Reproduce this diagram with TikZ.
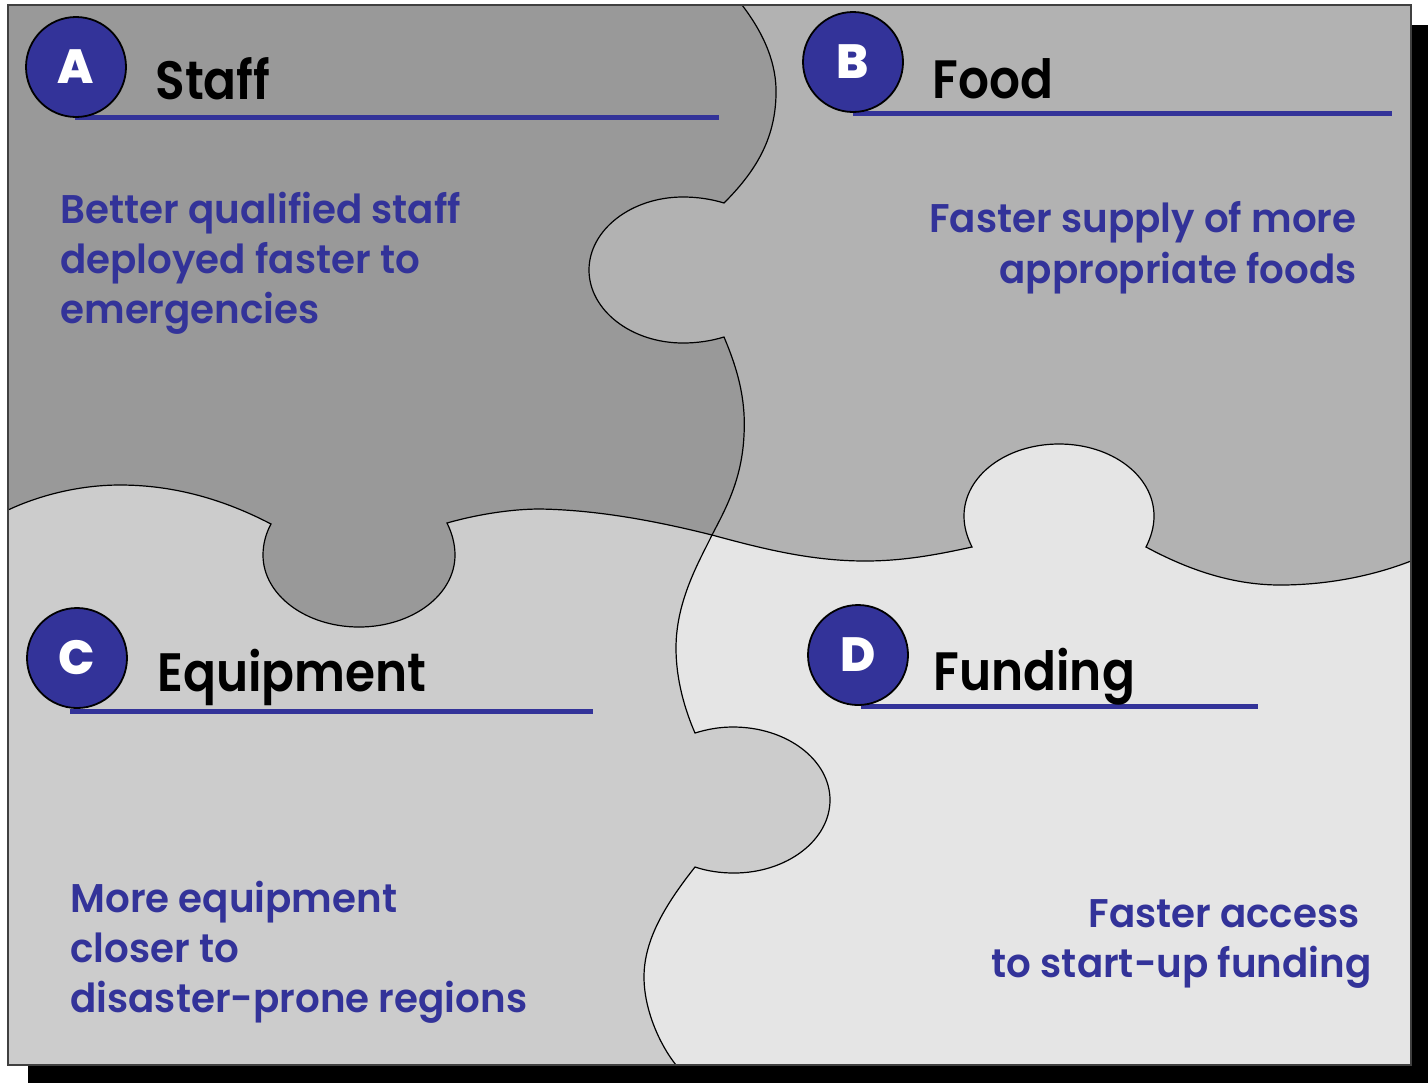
\documentclass[tikz,border=0pt]{standalone}
\usepackage{fontspec}
\setmainfont{Poppins}
\newfontfamily\headfont{Poppins SemiBold}[FakeStretch=0.9]
\newfontfamily\bodyfont{Poppins SemiBold}[FakeStretch=0.97]
\newfontfamily\badgefont{Poppins ExtraBold}
\definecolor{blueC}{HTML}{333399}
\definecolor{fillA}{HTML}{999999}
\definecolor{fillB}{HTML}{B2B2B2}
\definecolor{fillC}{HTML}{CCCCCC}
\definecolor{fillD}{HTML}{E5E5E5}
\tikzset{
  hcurve/.style={insert path={(8,510) .. controls (40,495) and (80,485) .. (120,485) .. controls (175,485) and (225,500) .. (271,524) .. controls (266,533) and (263,544) .. (263,555) .. controls (263,595) and (306,627) .. (359,627) .. controls (412,627) and (455,595) .. (455,555) .. controls (455,544) and (452,533) .. (447,523) .. controls (475,515) and (510,509) .. (540,509) .. controls (600,510) and (660,522) .. (712,535) .. controls (760,548) and (810,561) .. (865,561) .. controls (905,561) and (940,554) .. (972,547) .. controls (967,537) and (964,527) .. (964,516) .. controls (964,476) and (1006,444) .. (1059,444) .. controls (1112,444) and (1154,476) .. (1154,516) .. controls (1154,527) and (1151,537) .. (1146,547) .. controls (1185,568) and (1230,585) .. (1280,585) .. controls (1330,585) and (1375,575) .. (1411,561)}},
  vcurve/.style={insert path={(742,5) .. controls (765,35) and (777,65) .. (776,95) .. controls (775,140) and (755,172) .. (724,203) .. controls (711,199) and (697,197) .. (683,197) .. controls (631,197) and (589,230) .. (589,270) .. controls (589,310) and (631,343) .. (683,343) .. controls (697,343) and (711,341) .. (724,337) .. controls (738,370) and (746,400) .. (744,435) .. controls (742,480) and (725,510) .. (712,535) .. controls (700,560) and (676,600) .. (676,648) .. controls (676,680) and (685,710) .. (695,733) .. controls (708,729) and (720,727) .. (733,727) .. controls (787,727) and (830,760) .. (830,800) .. controls (830,840) and (787,873) .. (734,873) .. controls (720,873) and (707,871) .. (695,867) .. controls (665,905) and (644,940) .. (644,977) .. controls (644,1010) and (660,1045) .. (676,1065)}},
  seam/.style={draw=black, line width=0.6pt},
  border/.style={draw=black!75, line width=0.6pt},
  heading/.style={font=\headfont\fontsize{27}{32}\selectfont, text=black, anchor=base west, inner sep=0pt},
  body/.style={font=\bodyfont\fontsize{20}{25}\selectfont, text=blueC, inner sep=0pt},
  badge/.style={circle, draw=black, line width=0.9pt, fill=blueC, minimum size=50pt, inner sep=0pt,
                font=\badgefont\fontsize{24}{28}\selectfont, text=white},
  ruleline/.style={draw=blueC, line width=2.5pt},
}
\begin{document}
\begin{tikzpicture}[x=0.5pt,y=-0.5pt]
\useasboundingbox (0,0) rectangle (1428,1083);
\fill[white] (0,0) rectangle (1428,1083);
% shadow
\fill[black] (28,25) rectangle (1428,1083);
% puzzle pieces
\fill[fillC] (8,5) rectangle (1411,1065);
\begin{scope}
  \clip[hcurve] -- (1411,5) -- (8,5) -- cycle;
  \fill[fillA] (8,5) rectangle (1411,1065);
  \fill[fillB] [vcurve] -- (1411,1065) -- (1411,5) -- cycle;
\end{scope}
\begin{scope}
  \clip[hcurve] -- (1411,1065) -- (8,1065) -- cycle;
  \fill[fillD] [vcurve] -- (1411,1065) -- (1411,5) -- cycle;
\end{scope}
\draw[seam] [hcurve];
\draw[seam] [vcurve];
\draw[border] (8,5) rectangle (1411,1065);
% underlines
\draw[ruleline] (75,117) -- (719,117);
\draw[ruleline] (853,113) -- (1392,113);
\draw[ruleline] (70,711) -- (593,711);
\draw[ruleline] (861,706) -- (1258,706);
% badges
\node[badge] (cA) at (76,67) {A};
\node[badge] (cB) at (853,62) {B};
\node[badge] (cC) at (77,658) {C};
\node[badge] (cD) at (858,655) {D};
% headings
\node[heading] (hA) at (155,99) {Staff};
\node[heading] (hB) at (932,98) {Food};
\node[heading] (hC) at (157,691) {Equipment};
\node[heading] (hD) at (933,690) {Funding};
% body texts
\node[body, anchor=base west] (a1) at (60,223) {Better qualified staff};
\node[body, anchor=base west] (a2) at (60,273) {deployed faster to};
\node[body, anchor=base west] (a3) at (60,323) {emergencies};
\node[body, anchor=base east] (b1) at (1357,232) {Faster supply of more};
\node[body, anchor=base east] (b2) at (1357,283) {appropriate foods};
\node[body, anchor=base west] (c1) at (70,912) {More equipment};
\node[body, anchor=base west] (c2) at (70,962) {closer to};
\node[body, anchor=base west] (c3) at (70,1012) {disaster-prone regions};
\node[body, anchor=base east] (d1) at (1360,927) {Faster access};
\node[body, anchor=base east] (d2) at (1372,977) {to start-up funding};
\end{tikzpicture}
\end{document}
